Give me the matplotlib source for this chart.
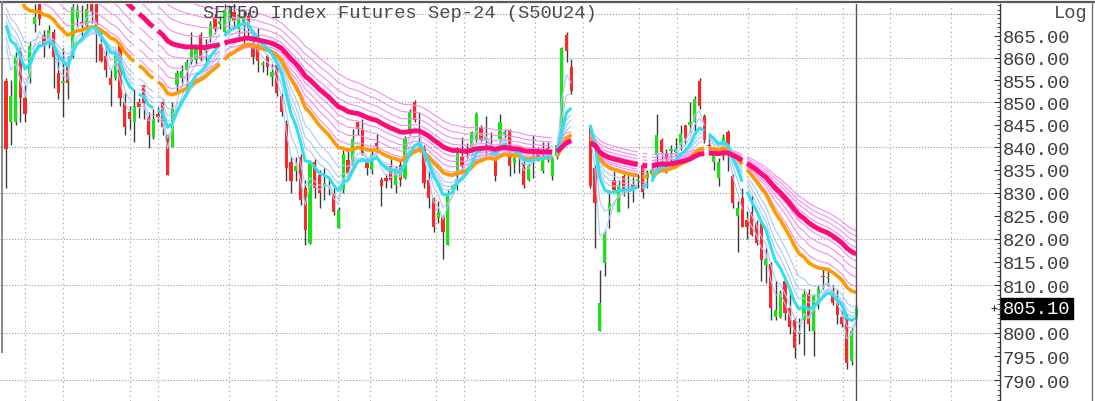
import numpy as np
import matplotlib
matplotlib.use('Agg')
import matplotlib.pyplot as plt
from matplotlib import ticker, transforms
from matplotlib.lines import Line2D

plt.rcParams['font.family'] = ['Liberation Mono', 'DejaVu Sans Mono']

title = 'SET50 Index Futures Sep-24 (S50U24)'
last_price = 805.10
nan = float('nan')

# OHLC bars (nan = no bar in that slot)
opens = [
    854.7, 845.6, 845.6, 861.6, 851.0, 855.4, 867.8, 872.2, 865.3, 864.2,
    866.0, 856.5, 854.3, 858.3, 860.5, 868.9, 868.0, 867.4, 872.5, 872.2,
    863.1, 860.5, 855.4, 855.4, 862.7, 850.0, 847.8, 845.6, 850.0, 853.8,
    846.7, 842.3, 847.5, 850.0, 842.7, 840.1, 853.8, 855.4, 857.3, 859.1,
    859.5, 865.3, 861.6, 864.5, 869.3, 867.8, 866.0, 868.5, 870.5, 866.5,
    867.4, 869.5, 863.4, 862.7, 858.4, 860.5, 855.8, 858.3, 851.4, 845.2,
    836.8, 834.7, 837.9, 831.0, 819.0, 836.8, 833.9, 831.4, 831.2, 829.9,
    822.3, 830.6, 837.2, 836.1, 845.6, 843.8, 836.5, 835.0, 840.9, 832.8,
    833.2, 835.8, 831.7, 836.1, 833.2, 843.8, 850.0, 843.5, 839.8, 832.8,
    828.8, 824.5, 824.8, 818.6, 830.6, 834.7, 837.9, 839.5, 839.4, 841.6,
    844.5, 841.6, 839.8, 839.4, 841.9, 843.0, 843.8, 836.5, 838.0, 836.5,
    832.8, 838.0, 839.0, 834.7, 839.8, 833.6, 838.0, 840.1, 865.3, 858.0,
    nan, nan, nan, 844.5, 835.4, 800.4, 814.7, 826.3, 832.8, 825.9,
    833.6, 831.5, 832.0, 832.5, 836.0, 833.2, 834.0, 838.3, 841.6, 838.7,
    839.2, 839.0, 840.5, 844.9, 844.9, 845.6, 854.7, 847.0, 840.5, 836.8,
    833.2, 838.3, 843.4, 833.6, 825.0, 828.8, 824.0, 825.9, 823.4, 823.4,
    814.3, 814.6, 803.3, 803.3, 811.0, 805.2, 802.6, 800.0, 802.6, 808.4,
    800.4, 806.2, 812.1, 811.5, 808.8, 806.6, 803.3, 803.7, 794.0, 803.3,
]
highs = [
    855.5, 855.1, 861.3, 862.5, 854.0, 863.8, 872.2, 873.0, 866.4, 867.4,
    866.5, 860.5, 862.3, 860.5, 872.5, 872.2, 872.0, 872.5, 873.2, 873.0,
    866.0, 862.7, 857.3, 861.3, 863.0, 852.1, 849.2, 852.9, 851.0, 854.0,
    847.8, 848.5, 849.0, 850.7, 843.0, 850.0, 857.3, 858.5, 859.8, 866.0,
    863.0, 866.0, 864.2, 868.5, 870.0, 869.5, 872.2, 872.0, 872.5, 871.0,
    871.0, 870.5, 866.0, 866.7, 859.4, 861.0, 858.7, 859.0, 852.0, 846.0,
    837.9, 837.9, 838.5, 832.8, 836.8, 837.5, 835.0, 835.4, 833.0, 831.0,
    826.8, 839.5, 839.8, 844.1, 845.6, 846.3, 837.6, 839.5, 843.0, 833.5,
    834.0, 838.0, 835.8, 837.0, 842.5, 848.5, 850.5, 847.8, 840.5, 834.7,
    829.0, 828.1, 825.2, 830.5, 832.0, 840.1, 842.3, 841.0, 843.5, 847.8,
    845.0, 847.0, 843.4, 840.0, 847.4, 844.0, 844.0, 838.5, 839.8, 837.0,
    836.5, 842.7, 840.0, 841.2, 841.2, 838.0, 841.0, 862.5, 865.8, 859.8,
    nan, nan, nan, 845.0, 836.0, 813.2, 822.0, 830.6, 834.7, 832.8,
    834.0, 834.0, 833.5, 834.0, 836.5, 835.0, 836.0, 847.4, 842.0, 839.7,
    840.5, 842.0, 844.9, 845.0, 850.0, 851.4, 855.4, 847.5, 842.7, 839.5,
    837.6, 843.0, 843.8, 834.0, 828.1, 831.0, 826.0, 829.6, 824.0, 824.0,
    817.9, 815.0, 811.0, 809.0, 812.1, 808.8, 803.0, 803.0, 809.2, 809.2,
    808.1, 810.0, 813.9, 813.2, 810.0, 809.2, 804.8, 804.0, 801.0, 806.0,
]
lows = [
    831.0, 840.5, 845.0, 845.6, 845.6, 854.3, 866.0, 867.4, 860.2, 862.3,
    853.2, 850.7, 846.7, 850.7, 860.0, 867.0, 864.9, 866.0, 868.0, 859.1,
    859.1, 855.8, 849.2, 855.0, 849.2, 842.7, 844.1, 841.2, 846.5, 846.3,
    839.8, 841.9, 845.5, 842.7, 833.9, 840.1, 852.1, 854.0, 852.9, 858.7,
    858.7, 859.4, 859.4, 863.5, 865.5, 866.5, 865.5, 866.0, 867.0, 865.0,
    863.1, 864.5, 858.7, 856.9, 856.9, 856.2, 853.6, 851.4, 847.0, 832.5,
    829.9, 832.5, 827.4, 818.6, 818.9, 828.8, 826.6, 828.5, 829.6, 825.2,
    822.3, 830.0, 833.9, 835.8, 842.7, 838.3, 833.9, 834.0, 839.0, 827.0,
    831.0, 831.0, 829.9, 831.4, 833.0, 842.7, 845.5, 839.8, 831.0, 826.6,
    821.5, 823.4, 815.7, 818.6, 830.6, 830.6, 834.7, 837.5, 838.3, 841.2,
    841.2, 838.3, 838.3, 832.5, 841.2, 842.0, 833.6, 834.3, 834.3, 831.0,
    832.5, 833.2, 837.0, 834.3, 836.8, 832.8, 837.5, 840.0, 859.1, 851.8,
    nan, nan, nan, 831.0, 817.9, 800.4, 812.1, 822.3, 829.9, 825.8,
    829.2, 826.6, 828.0, 831.0, 828.8, 831.0, 832.5, 834.0, 836.1, 834.3,
    836.1, 838.0, 839.4, 840.5, 843.4, 843.4, 848.5, 840.9, 838.5, 835.0,
    831.4, 837.2, 834.7, 826.6, 817.2, 822.6, 820.0, 820.5, 818.6, 811.0,
    810.6, 802.6, 802.6, 803.0, 802.6, 799.7, 794.6, 797.5, 795.3, 800.4,
    795.0, 805.0, 809.2, 809.9, 805.8, 801.9, 801.1, 792.4, 793.2, 802.9,
]
closes = [
    839.6, 851.4, 860.2, 851.0, 847.4, 862.7, 869.3, 868.9, 863.1, 866.4,
    860.2, 852.1, 854.7, 854.3, 871.5, 871.1, 867.8, 871.1, 870.5, 866.0,
    859.4, 857.3, 853.8, 860.5, 851.0, 844.5, 846.3, 849.2, 849.0, 849.6,
    842.7, 846.3, 846.8, 844.5, 833.9, 848.5, 856.5, 857.0, 859.1, 862.7,
    862.0, 859.8, 862.7, 867.8, 866.5, 868.5, 871.0, 870.8, 868.3, 869.8,
    869.5, 866.7, 860.2, 859.4, 858.6, 858.0, 856.9, 852.1, 847.8, 835.4,
    832.5, 835.8, 828.5, 821.9, 836.5, 831.0, 829.9, 832.1, 831.5, 825.9,
    826.3, 838.6, 834.3, 841.9, 844.1, 838.7, 835.4, 838.3, 840.1, 831.4,
    832.5, 832.8, 834.7, 832.8, 842.0, 847.8, 846.0, 843.2, 832.1, 828.8,
    822.6, 825.9, 821.5, 829.9, 831.7, 839.4, 835.8, 838.6, 843.4, 847.4,
    841.6, 842.3, 839.0, 833.6, 845.6, 843.2, 835.8, 837.6, 837.8, 831.7,
    835.8, 838.3, 837.9, 837.9, 839.0, 837.6, 840.5, 862.3, 861.6, 852.5,
    nan, nan, nan, 831.4, 827.7, 806.2, 821.3, 827.8, 830.6, 831.7,
    830.6, 831.2, 831.0, 833.0, 830.2, 834.3, 835.0, 842.7, 839.0, 835.4,
    839.4, 839.6, 842.9, 842.0, 845.6, 850.7, 849.2, 841.6, 840.2, 838.5,
    836.8, 842.3, 838.3, 827.7, 826.6, 822.6, 822.5, 820.8, 819.0, 815.4,
    815.7, 805.2, 804.8, 808.4, 804.1, 801.1, 796.8, 799.6, 808.1, 801.9,
    807.7, 809.2, 811.7, 811.8, 806.2, 803.7, 801.9, 793.5, 800.4, 805.1,
]

# moving-average ribbon: periods and the value each line has at the first bar
fast_periods = [3, 5, 10, 12, 15]
fast_seeds = [863.0, 865.0, 868.5, 870.0, 871.5]
slow_periods = [25, 30, 35, 40, 50, 55, 60, 65]
slow_seeds = [883.0, 887.0, 891.0, 895.0, 904.0, 907.0, 910.0, 913.0]
cyan_period, cyan_seed = 8, 867.4
orange_period, orange_seed = 22, 880.0
magenta_period, magenta_seed = 45, 900.0
ma_breaks = [28, 32, 46, 116, 123, 134, 136, 148, 156]   # slots where MA lines restart

# axis furniture
label_levels = [790, 795, 800, 810, 815, 820, 825, 830, 835, 840, 845, 850, 855, 860, 865]
grid_levels = [790, 800, 810, 820, 830, 840, 850, 860, 870]
day_lines = [4.1, 12.0, 26.0, 31.9, 46.9, 56.8, 69.8, 76.6, 90.6, 96.5, 111.4,
             121.4, 133.3, 141.3, 156.3, 166.3, 176.2, 186.0, 199.0]


def ema(values, period, seed):
    a = 2.0 / (period + 1)
    out = np.full(len(values), np.nan)
    e = seed
    for i, v in enumerate(values):
        if np.isnan(v):
            continue
        if i > 0:
            e += a * (v - e)
        out[i] = e
    return out


o = np.array(opens)
h = np.array(highs)
l = np.array(lows)
c = np.array(closes)
xs = np.arange(len(c))

W, H = 1095, 402
fig = plt.figure(figsize=(W / 100, H / 100), dpi=100)
ax = fig.add_axes([0, 0, 1000 / W, (H - 5) / H])
ax.set_yscale('log')
ax.set_ylim(785.7, 872.3)
ax.set_xlim(-6 / 4.75, 994 / 4.75)

# grid
for lv in grid_levels:
    ax.axhline(lv, color='#9a9a9a', lw=0.8, ls=(0, (1, 1.6)), zorder=1)
for d in day_lines:
    ax.axvline(d, color='#9a9a9a', lw=0.8, ls=(0, (1, 3.2)), zorder=1)

# candles
ok = ~np.isnan(c)
up = ok & (c >= o)
dn = ok & (c < o)
ax.vlines(xs[ok], l[ok], h[ok], color='#3c3c3c', lw=1.0, zorder=2)
for mask, col in ((up, '#14e614'), (dn, '#ff2626')):
    bot = np.minimum(o[mask], c[mask])
    ht = np.maximum(np.abs(c[mask] - o[mask]), 0.35)
    ax.bar(xs[mask], ht, bottom=bot, width=0.66, color=col, lw=0, zorder=2.5)

# moving averages, drawn in pieces between session breaks
starts = [0] + ma_breaks
ends = ma_breaks + [len(c)]


def draw_ma(y, **kw):
    for s0, s1 in zip(starts, ends):
        ax.plot(xs[s0:s1], y[s0:s1], solid_capstyle='butt', **kw)


for p, s in zip(fast_periods, fast_seeds):
    draw_ma(ema(c, p, s), color='#a9c9f5', lw=0.8, zorder=3)
for p, s in zip(slow_periods, slow_seeds):
    draw_ma(ema(c, p, s), color='#f48cf0', lw=0.8, zorder=3)
draw_ma(ema(c, orange_period, orange_seed), color='#ff9a00', lw=2.6, zorder=4)
draw_ma(ema(c, cyan_period, cyan_seed), color='#2fe0f0', lw=2.2, zorder=4)
draw_ma(ema(c, magenta_period, magenta_seed), color='#ff0a78', lw=3.5, zorder=5)

# current bar cursor
ax.axvline(xs[-1], color='#555555', lw=1.0, zorder=6)

# right price axis
for sp in ('left', 'top', 'bottom'):
    ax.spines[sp].set_visible(False)
ax.spines['right'].set_color('#333333')
ax.spines['right'].set_linewidth(1.0)
ax.set_xticks([])
ax.yaxis.tick_right()
ax.yaxis.set_major_locator(ticker.FixedLocator(label_levels))
ax.yaxis.set_major_formatter(ticker.FuncFormatter(lambda v, pos: '%.2f' % v))
ax.yaxis.set_minor_locator(ticker.FixedLocator(np.arange(786, 873, 1)))
ax.yaxis.set_minor_formatter(ticker.NullFormatter())
ax.tick_params(axis='y', which='major', direction='in', length=4, width=0.8,
               pad=2, labelsize=13.5, labelcolor='#3c3c3c', color='#333333')
ax.tick_params(axis='y', which='minor', direction='in', length=2, width=0.6,
               color='#333333')

# last price tag
tr = transforms.blended_transform_factory(fig.transFigure, ax.transData)
fig.text(1003 / W, last_price, '%.2f' % last_price, transform=tr, ha='left', va='center',
         fontsize=13.5, color='white',
         bbox=dict(boxstyle='square,pad=0.12', fc='black', ec='black'))
ax.plot([(994 - 6) / 4.75], [last_price], marker='+', ms=4, mew=0.8, color='#333333',
        clip_on=False, zorder=6)

# texts and frame lines
fig.text(203 / W, 1 - 14 / H, title, ha='left', va='center', fontsize=13.5, color='#4a4a4a')
fig.text(1088 / W, 1 - 14 / H, 'Log', ha='right', va='center', fontsize=13.5, color='#4a4a4a')
fig.add_artist(Line2D([0, 1], [1 - 3 / H] * 2, transform=fig.transFigure, color='#5a5a5a', lw=1.6))
fig.add_artist(Line2D([1092 / W] * 2, [0, 1 - 3 / H], transform=fig.transFigure, color='#777777', lw=1.0))
fig.add_artist(Line2D([2 / W] * 2, [1 - 3 / H, 1 - 353 / H], transform=fig.transFigure,
                      color='#8a8a8a', lw=1.4))

fig.savefig('out.png', dpi=100)
